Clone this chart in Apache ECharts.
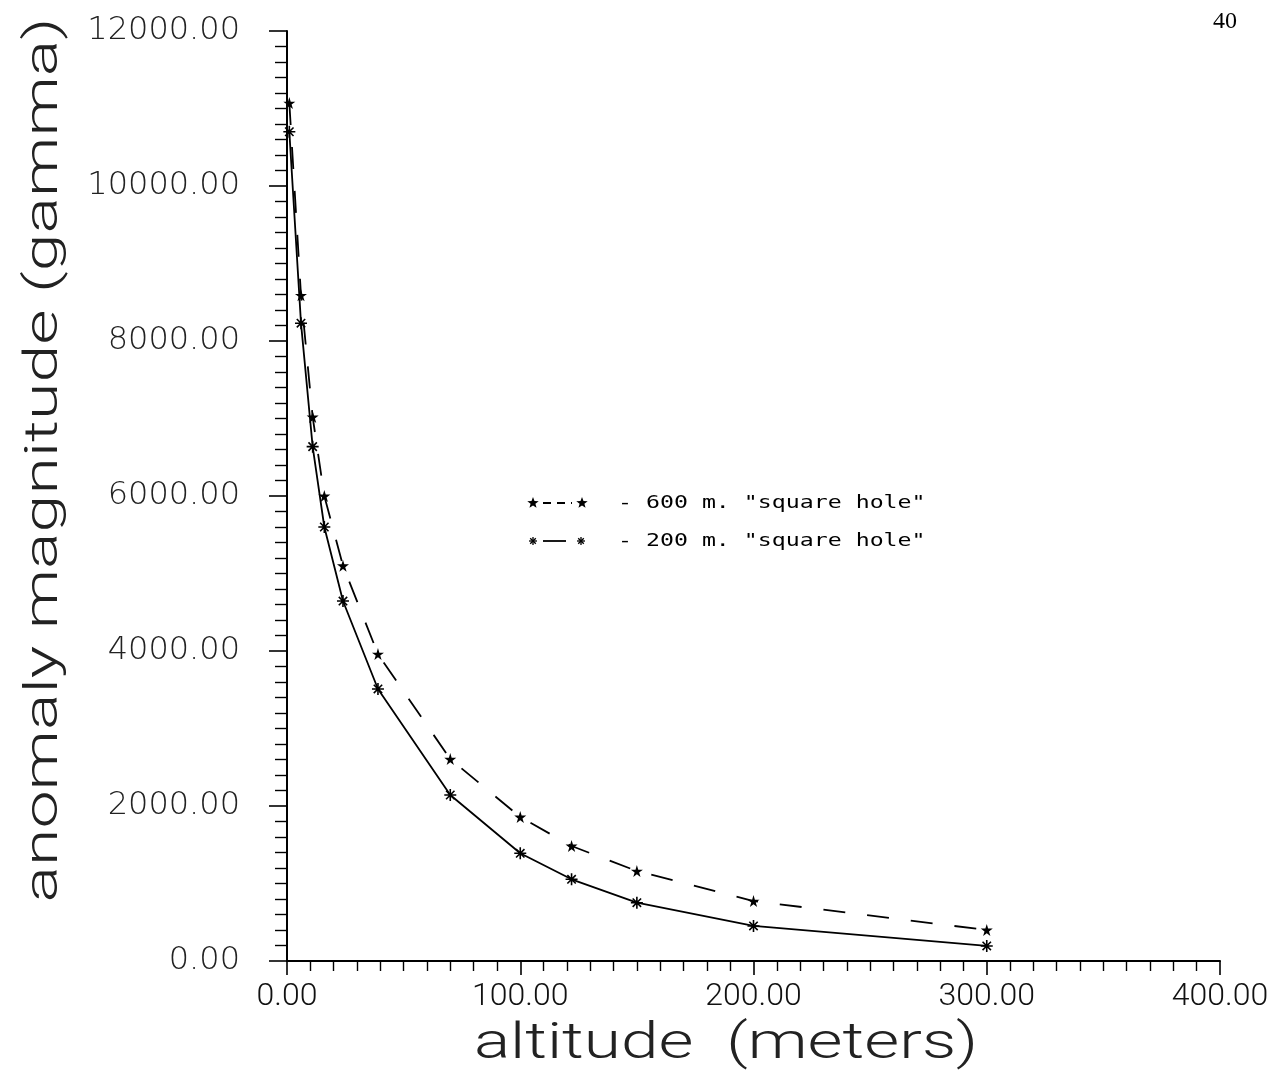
<!DOCTYPE html>
<html>
<head>
<meta charset="utf-8">
<script src="https://cdn.jsdelivr.net/npm/echarts@6/dist/echarts.min.js"></script>
<style>
  html, body { margin: 0; padding: 0; background: #fff; }
  #chart { width: 1276px; height: 1077px; }
</style>
</head>
<body>
<div id="chart"></div>
<script>
// Data
const altitude = [1, 6, 11, 16, 24, 39, 70, 100, 122, 150, 200, 300];
const hole600 = [11070, 8590, 7020, 6000, 5100, 3960, 2605, 1858, 1484, 1161, 774, 400];
const hole200 = [10700, 8230, 6637, 5600, 4645, 3510, 2142, 1390, 1054, 752, 452, 194];
const seriesNames = ['600 m. "square hole"', '200 m. "square hole"'];
const xTicks = [0, 100, 200, 300, 400];
const yTicks = [0, 2000, 4000, 6000, 8000, 10000, 12000];

const starPath = 'path://M50,0 L61,35 L98,35 L68,57 L79,91 L50,70 L21,91 L32,57 L2,35 L39,35 Z';
const crossPath = 'path://M0,10 L20,10 M10,0 L10,20 M3,3 L17,17 M17,3 L3,17';

function starPoints(cx, cy, r) {
  const pts = [];
  for (let i = 0; i < 10; i++) {
    const a = -Math.PI / 2 + i * Math.PI / 5;
    const rr = i % 2 === 0 ? r : r * 0.42;
    pts.push([cx + rr * Math.cos(a), cy + rr * Math.sin(a)]);
  }
  return pts;
}
function crossLines(cx, cy, r) {
  const d = r * 0.7;
  const segs = [[-r, 0, r, 0], [0, -r, 0, r], [-d, -d, d, d], [d, -d, -d, d]];
  return segs.map(s => ({
    type: 'line',
    shape: { x1: cx + s[0], y1: cy + s[1], x2: cx + s[2], y2: cy + s[3] },
    style: { stroke: '#000', lineWidth: 1.3 }
  }));
}

const chart = echarts.init(document.getElementById('chart'), null, { renderer: 'canvas' });

const pair = (xs, ys) => xs.map((x, i) => [x, ys[i]]);

const option = {
  backgroundColor: '#ffffff',
  animation: false,
  grid: { left: 287, right: 56, top: 31, bottom: 116, containLabel: false },
  xAxis: {
    type: 'value',
    min: xTicks[0],
    max: xTicks[xTicks.length - 1],
    interval: 100,
    axisLine: { show: true, onZero: false, lineStyle: { color: '#000', width: 2 } },
    axisTick: { show: true, inside: false, length: 14, lineStyle: { color: '#000', width: 1.6 } },
    minorTick: { show: true, splitNumber: 10, length: 10, lineStyle: { color: '#000', width: 1.4 } },
    splitLine: { show: false },
    axisLabel: {
      margin: 20,
      color: '#111',
      fontFamily: 'Roboto',
      fontWeight: 300,
      fontSize: 32,
      formatter: v => v.toFixed(2)
    }
  },
  yAxis: {
    type: 'value',
    min: yTicks[0],
    max: yTicks[yTicks.length - 1],
    interval: 2000,
    axisLine: { show: true, onZero: false, lineStyle: { color: '#000', width: 2 } },
    axisTick: { show: true, inside: false, length: 18, lineStyle: { color: '#000', width: 1.6 } },
    minorTick: { show: true, splitNumber: 10, length: 12, lineStyle: { color: '#000', width: 1.4 } },
    splitLine: { show: false },
    axisLabel: {
      margin: 47,
      color: '#222',
      fontFamily: 'DejaVu Sans',
      fontWeight: 200,
      fontSize: 32,
      formatter: v => v.toFixed(2)
    }
  },
  series: [
    {
      name: seriesNames[0],
      type: 'line',
      data: pair(altitude, hole600),
      symbol: starPath,
      symbolSize: 12,
      itemStyle: { color: '#000' },
      lineStyle: { color: '#000', width: 1.8, type: [22, 22] }
    },
    {
      name: seriesNames[1],
      type: 'line',
      data: pair(altitude, hole200),
      symbol: crossPath,
      symbolSize: 12,
      itemStyle: { color: 'none', borderColor: '#000', borderWidth: 1.6 },
      lineStyle: { color: '#000', width: 1.8, type: 'solid' }
    }
  ],
  graphic: [
    {
      type: 'text',
      x: 45, y: 460,
      rotation: Math.PI / 2,
      scaleX: 1.48,
      style: {
        text: 'anomaly magnitude (gamma)',
        font: '300 46px Roboto',
        fill: '#222',
        align: 'center',
        verticalAlign: 'middle'
      }
    },
    {
      type: 'text',
      x: 726, y: 1045,
      scaleX: 1.35,
      style: {
        text: 'altitude  (meters)',
        font: '300 50px Roboto',
        fill: '#222',
        align: 'center',
        verticalAlign: 'middle'
      }
    },
    {
      type: 'text',
      x: 1225, y: 22,
      style: {
        text: '40',
        font: '24px "Liberation Serif"',
        fill: '#000',
        align: 'center',
        verticalAlign: 'middle'
      }
    },
    // legend row 1
    { type: 'polygon', shape: { points: starPoints(533, 503, 6) }, style: { fill: '#000' } },
    { type: 'line', shape: { x1: 543, y1: 503, x2: 572, y2: 503 }, style: { stroke: '#000', lineWidth: 1.8, lineDash: [8, 6] } },
    { type: 'polygon', shape: { points: starPoints(582, 503, 6) }, style: { fill: '#000' } },
    {
      type: 'text', x: 618, y: 503, scaleX: 1.29,
      style: { text: '- ' + seriesNames[0], font: '18px "DejaVu Sans Mono"', fill: '#000', align: 'left', verticalAlign: 'middle' }
    },
    // legend row 2
    ...crossLines(533, 541, 4),
    { type: 'line', shape: { x1: 543, y1: 541, x2: 566, y2: 541 }, style: { stroke: '#000', lineWidth: 1.8 } },
    ...crossLines(581, 541, 4),
    {
      type: 'text', x: 618, y: 541, scaleX: 1.29,
      style: { text: '- ' + seriesNames[1], font: '18px "DejaVu Sans Mono"', fill: '#000', align: 'left', verticalAlign: 'middle' }
    }
  ]
};

chart.setOption(option);
</script>
</body>
</html>
